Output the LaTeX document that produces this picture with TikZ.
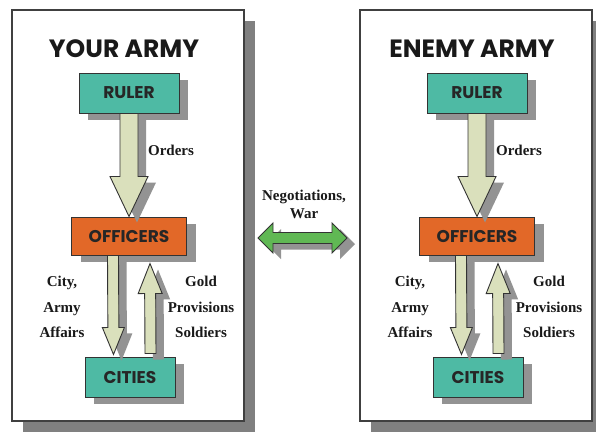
\documentclass[tikz,border=0pt]{standalone}
\usepackage{fontspec}
\setmainfont{Liberation Serif}
\newfontfamily\armyfont{Poppins}
\usetikzlibrary{calc,shadows}
\definecolor{rulerteal}{RGB}{78,186,164}
\definecolor{officerorange}{RGB}{226,104,40}
\definecolor{shaftkhaki}{RGB}{218,224,188}
\definecolor{negogreen}{RGB}{96,184,84}
\definecolor{shadowgray}{RGB}{128,128,128}
\tikzset{
  frame/.style={draw=black!75, line width=1.2pt, fill=white,
    drop shadow={shadow xshift=11pt, shadow yshift=-11pt, fill=shadowgray, opacity=1}},
  armytitle/.style={font=\armyfont\bfseries\fontsize{25}{25}\selectfont, text=black!90},
  rank/.style={draw=black!80, line width=1pt, inner sep=0pt,
    font=\armyfont\bfseries\fontsize{17}{17}\selectfont, text=black!85,
    drop shadow={shadow xshift=9pt, shadow yshift=-7pt, fill=shadowgray!85, opacity=1}},
  blockarrow/.style={draw=black!80, line width=0.9pt, fill=shaftkhaki, line join=miter,
    drop shadow={shadow xshift=8pt, shadow yshift=-6pt, fill=shadowgray!85, opacity=1}},
  greenarrow/.style={blockarrow, fill=negogreen},
  flow/.style={font=\bfseries\fontsize{15}{25.5}\selectfont, align=center, text=black!90}
}
% #1 start, #2 tip, #3 shaft half width, #4 head half width, #5 head length
\newcommand{\bigarrow}[5]{%
  \coordinate (hb) at ($(#2)!#5!(#1)$);
  \draw[blockarrow] ($(#1)!#3!90:(#2)$) -- ($(hb)!#3!90:(#2)$) -- ($(hb)!#4!90:(#2)$)
    -- (#2) -- ($(hb)!#4!-90:(#2)$) -- ($(hb)!#3!-90:(#2)$) -- ($(#1)!#3!-90:(#2)$) -- cycle;}
\begin{document}
\begin{tikzpicture}[x=1pt,y=-1pt]
  \useasboundingbox (0,0) rectangle (596,432);
  \foreach \i/\dx/\army in {1/0/YOUR ARMY, 2/348/ENEMY ARMY} {
    % panel
    \draw[frame] ({12+\dx},10) rectangle ({244+\dx},421);
    \node[armytitle] (title\i) at ({124+\dx},49) {\army};
    \node[rank, fill=rulerteal, minimum width=100pt, minimum height=40pt] (ruler\i) at ({129+\dx},93) {RULER};
    \node[rank, fill=officerorange, minimum width=115pt, minimum height=38pt] (officers\i) at ({129+\dx},236) {OFFICERS};
    \node[rank, fill=rulerteal, minimum width=90pt, minimum height=40pt] (cities\i) at ({130+\dx},377) {CITIES};
    % arrows
    \bigarrow{ruler\i.south}{officers\i.north}{9pt}{19pt}{40pt}
    \coordinate (dnstart\i) at ($(officers\i.south)+(-16,0)$);
    \coordinate (dnend\i) at ($(cities\i.north)+(-16.5,-2)$);
    \bigarrow{dnstart\i}{dnend\i}{5.5pt}{11pt}{27pt}
    \coordinate (upstart\i) at ($(cities\i.north)+(20.5,-3)$);
    \coordinate (upend\i) at ($(officers\i.south)+(21,8)$);
    \bigarrow{upstart\i}{upend\i}{5.5pt}{12pt}{30pt}
    % labels
    \node[flow] (orders\i) at ({171+\dx},150) {Orders};
    \node[flow] (affairs\i) at ({62+\dx},307) {City,\\Army\\Affairs};
    \node[flow] (goods\i) at ({201+\dx},307) {Gold\\Provisions\\Soldiers};
  }
  % between the armies
  \node[flow, font=\bfseries\fontsize{15}{18}\selectfont] (nego) at (304,204) {Negotiations,\\War};
  \coordinate (negl) at (258,238);
  \coordinate (negr) at (347,238);
  \draw[greenarrow] (negl) -- ($(negl)+(15,-15)$) -- ($(negl)+(15,-5.5)$) -- ($(negr)+(-15,-5.5)$)
    -- ($(negr)+(-15,-15)$) -- (negr) -- ($(negr)+(-15,15)$) -- ($(negr)+(-15,5.5)$)
    -- ($(negl)+(15,5.5)$) -- ($(negl)+(15,15)$) -- cycle;
\end{tikzpicture}
\end{document}
